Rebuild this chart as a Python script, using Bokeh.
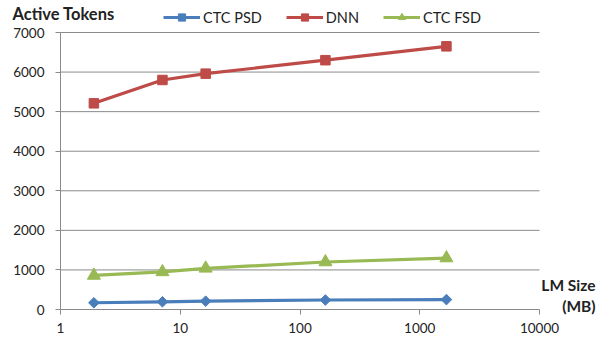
import math
from bokeh.plotting import figure
from bokeh.models import Label, Legend, LegendItem, Range1d, FixedTicker, CustomJSTickFormatter
from bokeh.embed import file_html
from bokeh.resources import INLINE

lm_size = [1.9, 7.1, 16.3, 163, 1670]
ctc_psd = [170, 195, 210, 240, 250]
dnn = [5210, 5800, 5960, 6300, 6650]
ctc_fsd = [860, 950, 1040, 1200, 1300]
y_ticks = [0, 1000, 2000, 3000, 4000, 5000, 6000, 7000]
x_ticks = [1, 10, 100, 1000, 10000]

FONT = "Lato"
BLUE = "#4A7EBB"
RED = "#BE4B48"
GREEN = "#98B954"
GRID = "#8a8a8a"
TXT = "#222222"

W, H = 603, 341
# frame fills the canvas; data box maps to px x 60..539, y 32..309
px_per_dec = (539 - 60) / 4.0
x0 = 10 ** (-60 / px_per_dec)
x1 = 10 ** ((W - 60) / px_per_dec)
u_per_px = 7000 / (309 - 32)
y0 = -(H - 309) * u_per_px
y1 = 7000 + 32 * u_per_px

p = figure(width=W, height=H, x_axis_type="log",
           x_range=Range1d(x0, x1), y_range=Range1d(y0, y1),
           output_backend="svg", toolbar_location=None,
           min_border=0, min_border_left=0, min_border_right=0,
           min_border_top=0, min_border_bottom=0)
p.outline_line_color = None
p.background_fill_color = "white"
p.grid.visible = False

# horizontal gridlines between x=1 and x=10000
p.segment(x0=[x_ticks[0]] * (len(y_ticks) - 1), x1=[x_ticks[-1]] * (len(y_ticks) - 1),
          y0=y_ticks[1:], y1=y_ticks[1:], line_color=GRID, line_width=1)

xa = p.xaxis[0]
ya = p.yaxis[0]
xa.fixed_location = 0
ya.fixed_location = 1
xa.bounds = (x_ticks[0], x_ticks[-1])
ya.bounds = (y_ticks[0], y_ticks[-1])
ya.ticker = FixedTicker(ticks=y_ticks)
xa.ticker = FixedTicker(ticks=x_ticks, minor_ticks=[])
xa.formatter = CustomJSTickFormatter(code="return tick.toFixed(0);")
for ax in (xa, ya):
    ax.axis_line_color = GRID
    ax.major_tick_line_color = GRID
    ax.major_tick_out = 5
    ax.major_tick_in = 0
    ax.minor_tick_line_color = None
    ax.major_label_text_font = FONT
    ax.major_label_text_font_size = "13.5px"
    ax.major_label_text_color = TXT
xa.major_label_standoff = 8
ya.major_label_standoff = 11

r1l = p.line(lm_size, ctc_psd, line_color=BLUE, line_width=3.2)
r1m = p.scatter(lm_size, ctc_psd, marker="square", size=7.5, angle=math.pi / 4,
                fill_color=BLUE, line_color=BLUE)
r2l = p.line(lm_size, dnn, line_color=RED, line_width=3.2)
r2m = p.scatter(lm_size, dnn, marker="square", size=9.5, fill_color=RED, line_color=RED)
r3l = p.line(lm_size, ctc_fsd, line_color=GREEN, line_width=3.2)
r3m = p.scatter(lm_size, ctc_fsd, marker="triangle", size=13, fill_color=GREEN, line_color=GREEN)

legend = Legend(items=[LegendItem(label="CTC PSD", renderers=[r1l, r1m]),
                       LegendItem(label="DNN", renderers=[r2l, r2m]),
                       LegendItem(label="CTC FSD", renderers=[r3l, r3m])],
                orientation="horizontal", location=(163, H - 26),
                glyph_width=37, glyph_height=18, label_standoff=3, spacing=24,
                padding=0, margin=0, border_line_color=None, background_fill_alpha=0,
                label_text_font=FONT, label_text_font_size="14.5px", label_text_color=TXT)
p.add_layout(legend, "center")

p.add_layout(Label(x=12, y=H - 13, x_units="screen", y_units="screen", text="Active Tokens",
                   text_baseline="middle",
                   text_font=FONT, text_font_style="bold", text_font_size="16.5px", text_color=TXT))
p.add_layout(Label(x=595, y=H - 284, x_units="screen", y_units="screen", text="LM Size",
                   text_align="right", text_baseline="middle", text_font=FONT,
                   text_font_style="bold", text_font_size="15.5px", text_color=TXT))
p.add_layout(Label(x=595, y=H - 305, x_units="screen", y_units="screen", text="(MB)",
                   text_align="right", text_baseline="middle", text_font=FONT,
                   text_font_style="bold", text_font_size="15.5px", text_color=TXT))

open("out.html", "w").write(file_html(p, INLINE))
